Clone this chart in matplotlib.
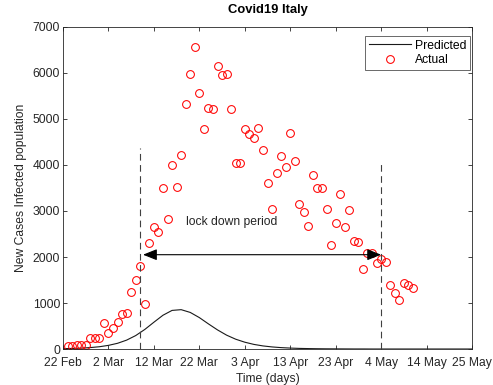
import numpy as np
import matplotlib
matplotlib.use('Agg')
import matplotlib.pyplot as plt

plt.rcParams['font.family'] = ['Liberation Sans', 'DejaVu Sans']

# daily new cases, day 1 = 22 Feb
actual_day = list(range(1, 78))
actual_cases = [62, 73, 77, 93, 78, 250, 238, 240, 566, 342,
                466, 587, 769, 778, 1247, 1492, 1797, 977, 2313, 2651,
                2547, 3497, 2830, 4010, 3526, 4207, 5322, 5986, 6557, 5560,
                4789, 5249, 5210, 6153, 5959, 5974, 5217, 4050, 4053, 4782,
                4668, 4585, 4805, 4316, 3599, 3039, 3836, 4204, 3951, 4694,
                4092, 3153, 2972, 2667, 3786, 3493, 3491, 3047, 2256, 2729,
                3370, 2646, 3021, 2357, 2324, 1739, 2091, 2086, 1872, 1965,
                1900, 1389, 1221, 1075, 1444, 1401, 1327]

# model output
pred_day = list(range(0, 92, 2))
pred_cases = [7, 12, 19, 31, 49, 79, 124, 193, 292, 425,
              582, 734, 839, 855, 795, 683, 546, 415, 301, 213,
              148, 100, 67, 45, 30, 20, 13, 9, 6, 4,
              3, 2, 1, 1, 0, 0, 0, 0, 0, 0,
              0, 0, 0, 0, 0, 0]

tick_labels = ['22 Feb', '2 Mar', '12 Mar', '22 Mar', '3 Apr', '13 Apr',
               '23 Apr', '4 May', '14 May', '25 May']

lockdown_start = 17
lockdown_end = 70

fig = plt.figure(figsize=(4.93, 3.85), dpi=100)
ax = fig.add_axes([63/493, 1 - 349/385, 409/493, 322/385])

dark = '#262626'
fs = 8.7

ax.plot(pred_day, pred_cases, color='#1a1a1a', linewidth=0.8, label='Predicted')
ax.plot(actual_day, actual_cases, 'o', color='#ff0000', markerfacecolor='none',
        markersize=5.6, markeredgewidth=0.75, label='Actual')

# lock down markers
ax.plot([lockdown_start, lockdown_start], [0, 4360], '--', color='#404040',
        linewidth=0.8, dashes=(6, 4))
ax.plot([lockdown_end, lockdown_end], [0, 4050], '--', color='#404040',
        linewidth=0.8, dashes=(6, 4))
ax.annotate('', xy=(lockdown_start + 0.6, 2050), xytext=(lockdown_end, 2050),
            arrowprops=dict(arrowstyle='<|-|>,head_length=0.5,head_width=0.2',
                            color='k', lw=0.8, mutation_scale=17,
                            shrinkA=0, shrinkB=0))
ax.text(27.1, 2770, 'lock down period', fontsize=fs, color=dark,
        ha='left', va='center')

ax.set_xlim(0, 90)
ax.set_ylim(0, 7000)
ax.set_xticks(np.arange(0, 91, 10))
ax.set_xticklabels(tick_labels)
ax.set_yticks(np.arange(0, 7001, 1000))
ax.tick_params(direction='in', length=3, width=0.6, top=True, right=True,
               labelsize=fs, colors=dark, pad=2)
ax.tick_params(axis='x', pad=5.5)
for s in ax.spines.values():
    s.set_color(dark)
    s.set_linewidth(0.6)

ax.set_title('Covid19 Italy', fontsize=9.4, fontweight='bold', color='k', pad=10)
ax.set_xlabel('Time (days)', fontsize=fs, color=dark, labelpad=3)
ax.set_ylabel('New Cases Infected population', fontsize=fs, color=dark, labelpad=4)

leg = ax.legend(loc='upper right', bbox_to_anchor=(407/409, 313/322),
                fontsize=fs, frameon=True, fancybox=False,
                borderpad=0.3, handlelength=3.5, handletextpad=0.3,
                labelspacing=0.2, borderaxespad=0)
leg.get_frame().set_edgecolor(dark)
leg.get_frame().set_linewidth(0.6)

plt.savefig('out.png', dpi=100)
